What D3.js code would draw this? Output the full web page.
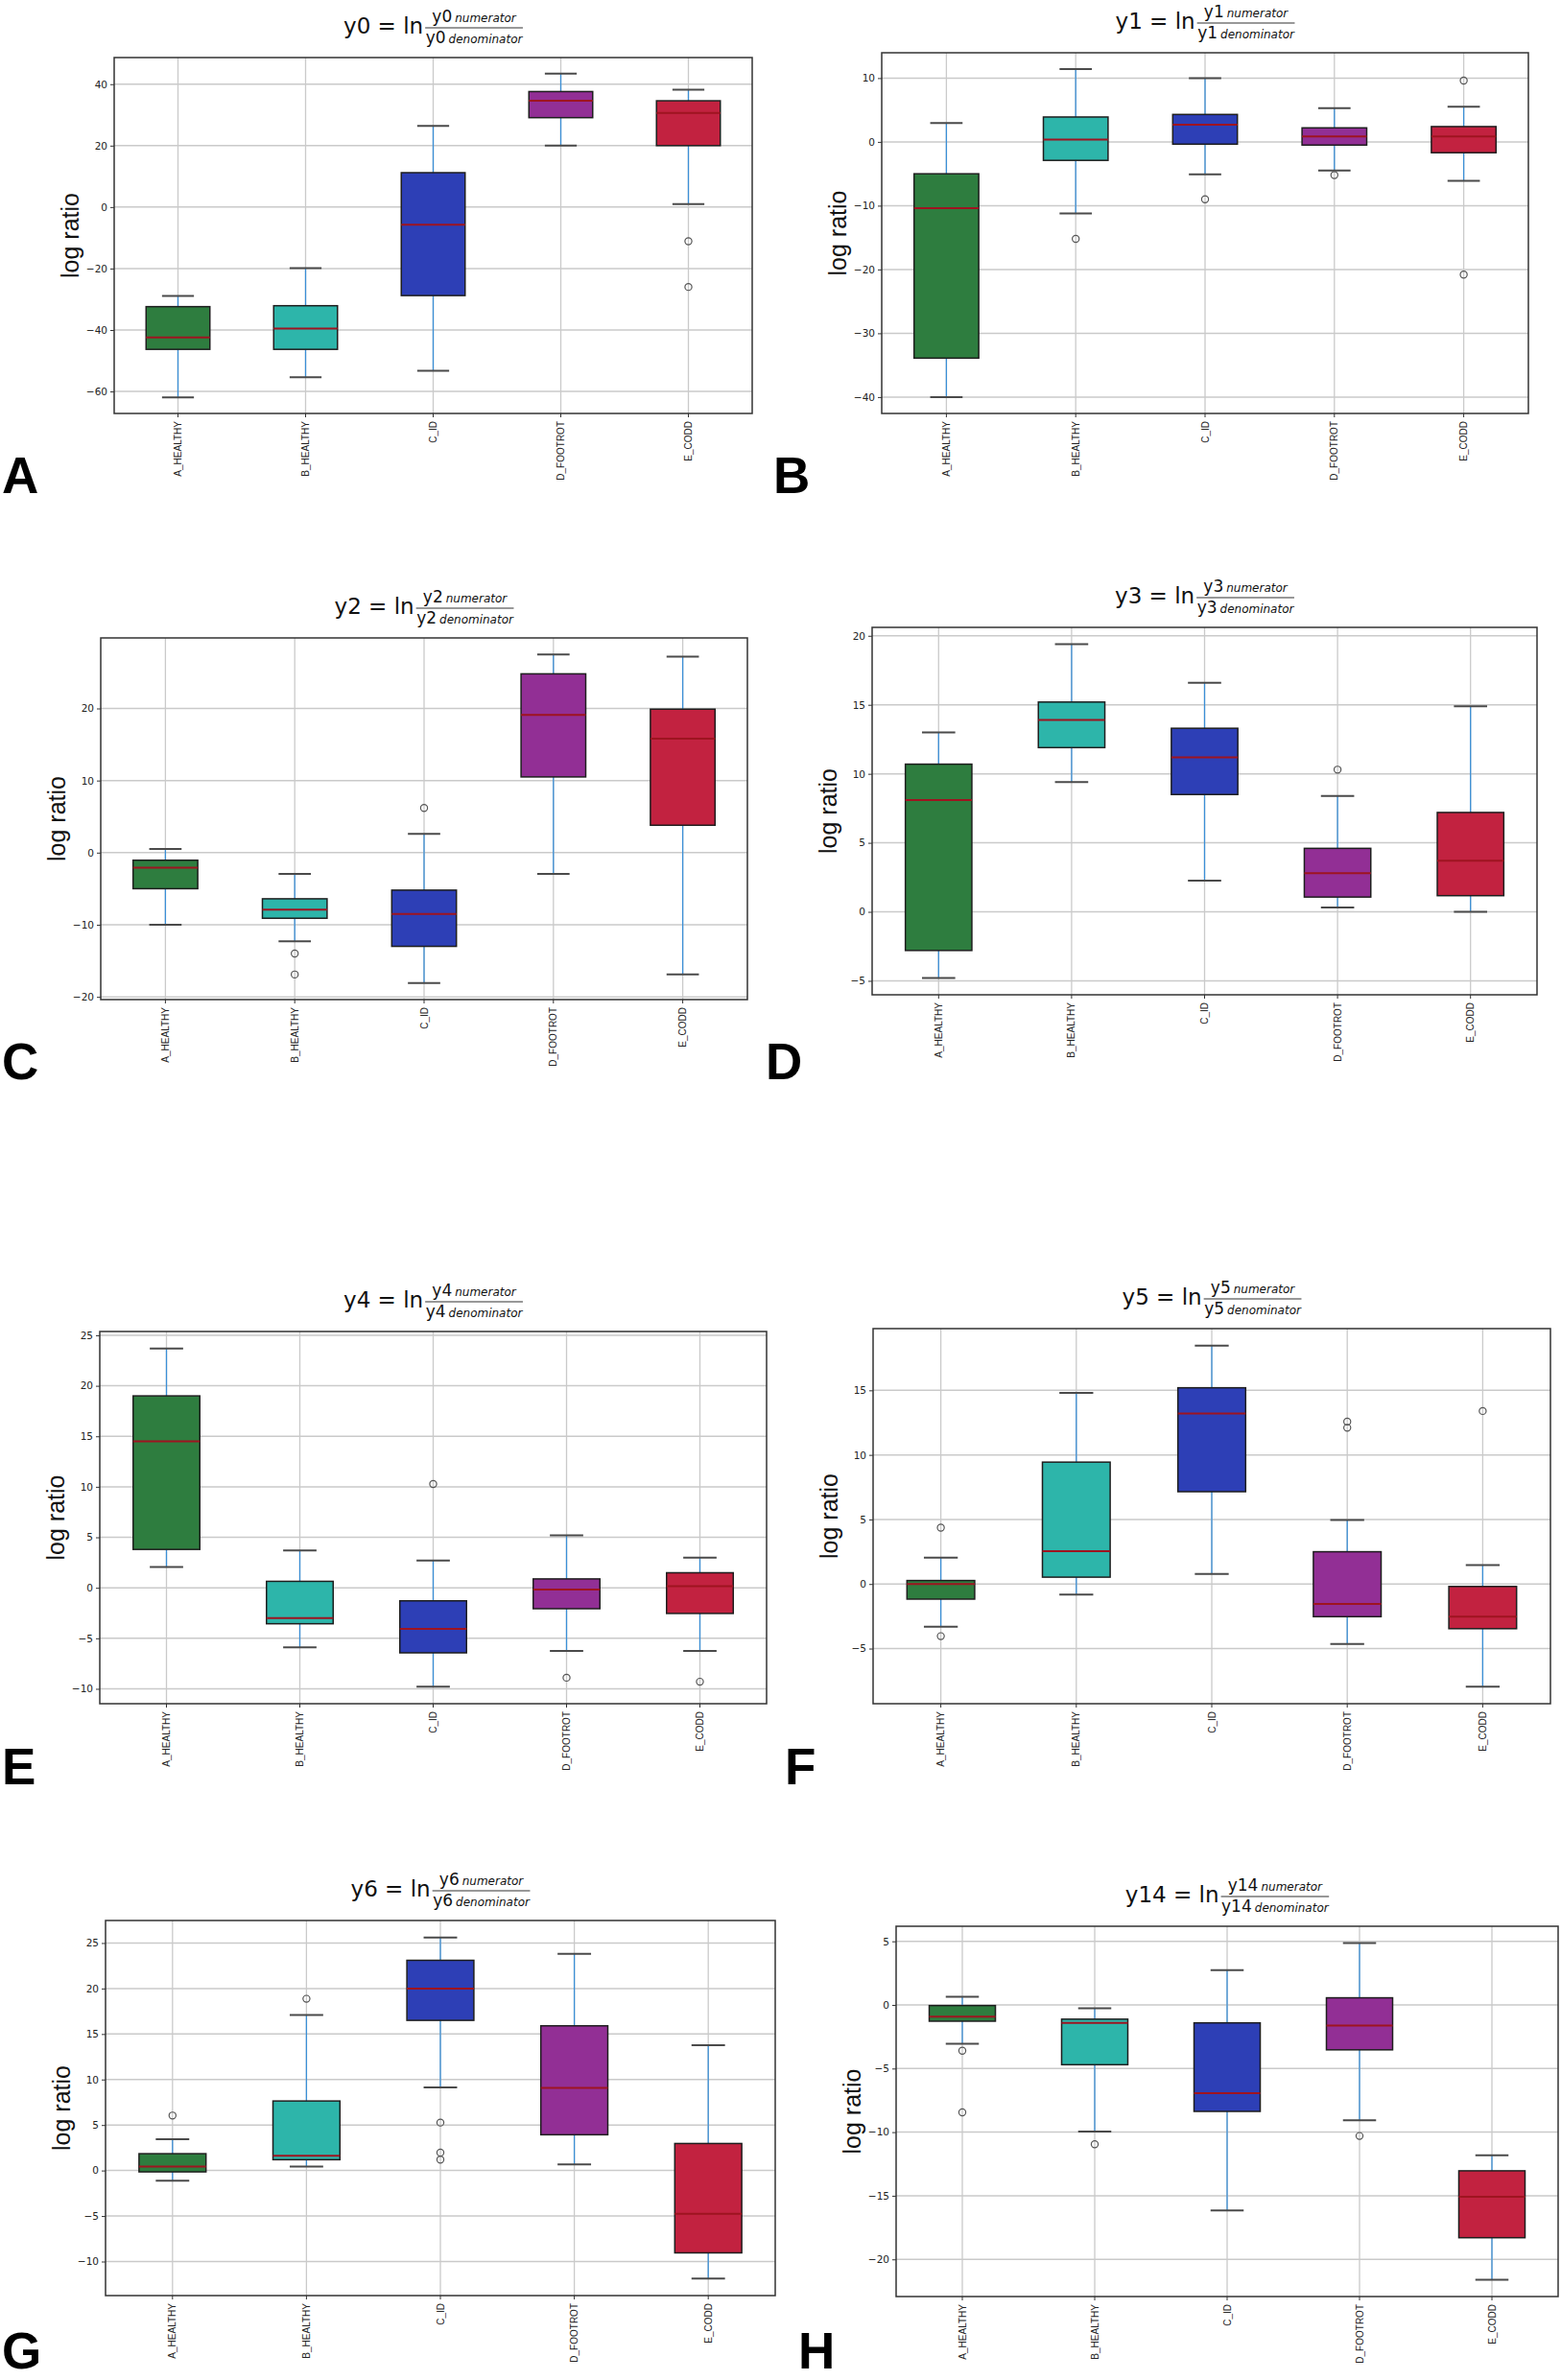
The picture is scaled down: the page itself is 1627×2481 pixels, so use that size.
<!DOCTYPE html>
<html>
<head>
<meta charset="utf-8">
<script src="https://cdn.jsdelivr.net/npm/d3@7"></script>
<style>
  body { margin: 0; background: #fff; }
  svg { display: block; }
</style>
</head>
<body>
<script>
const groups = ["A_HEALTHY", "B_HEALTHY", "C_ID", "D_FOOTROT", "E_CODD"];

// each box: [lower whisker, Q1, median, Q3, upper whisker]
const y0Boxes = [
  [-61.9, -46.3, -42.4, -32.4, -28.9],
  [-55.4, -46.3, -39.5, -32.1, -19.9],
  [-53.3, -28.8, -5.7, 11.2, 26.4],
  [20.0, 29.1, 34.6, 37.6, 43.4],
  [1.0, 20.0, 30.6, 34.6, 38.2]
];
const y0Outliers = [[], [], [], [], [-11.1, -26.0]];
const y0Ticks = [-60, -40, -20, 0, 20, 40];

const y1Boxes = [
  [-40.0, -33.9, -10.4, -5.0, 2.95],
  [-11.2, -2.9, 0.36, 3.9, 11.4],
  [-5.1, -0.36, 2.7, 4.3, 10.0],
  [-4.5, -0.5, 0.86, 2.2, 5.3],
  [-6.1, -1.7, 0.86, 2.4, 5.5]
];
const y1Outliers = [[], [-15.2], [-9.0], [-5.2], [9.6, -20.8]];
const y1Ticks = [-40, -30, -20, -10, 0, 10];

const y2Boxes = [
  [-10.0, -5.0, -2.1, -1.05, 0.52],
  [-12.3, -9.1, -7.9, -6.4, -2.95],
  [-18.1, -13.0, -8.5, -5.2, 2.6],
  [-2.95, 10.5, 19.1, 24.8, 27.5],
  [-16.9, 3.8, 15.8, 19.9, 27.2]
];
const y2Outliers = [[], [-14.0, -16.9], [6.2], [], []];
const y2Ticks = [-20, -10, 0, 10, 20];

const y3Boxes = [
  [-4.8, -2.8, 8.1, 10.7, 13.0],
  [9.4, 11.9, 13.9, 15.2, 19.4],
  [2.26, 8.5, 11.2, 13.3, 16.6],
  [0.32, 1.07, 2.8, 4.6, 8.4],
  [0.0, 1.17, 3.7, 7.2, 14.9]
];
const y3Outliers = [[], [], [], [10.3], []];
const y3Ticks = [-5, 0, 5, 10, 15, 20];

const y4Boxes = [
  [2.07, 3.8, 14.5, 19.0, 23.7],
  [-5.9, -3.56, -3.0, 0.64, 3.7],
  [-9.8, -6.44, -4.07, -1.29, 2.7],
  [-6.24, -2.07, -0.17, 0.88, 5.19],
  [-6.24, -2.54, 0.17, 1.49, 2.98]
];
const y4Outliers = [[], [], [10.27], [-8.9], [-9.3]];
const y4Ticks = [-10, -5, 0, 5, 10, 15, 20, 25];

const y5Boxes = [
  [-3.3, -1.17, 0.0, 0.27, 2.05],
  [-0.82, 0.53, 2.55, 9.44, 14.8],
  [0.77, 7.15, 13.2, 15.2, 18.46],
  [-4.65, -2.53, -1.54, 2.5, 4.95],
  [-7.95, -3.46, -2.53, -0.19, 1.46]
];
const y5Outliers = [[4.36, -4.04], [], [], [12.58, 12.1], [13.4]];
const y5Ticks = [-5, 0, 5, 10, 15];

const y6Boxes = [
  [-1.11, -0.15, 0.44, 1.85, 3.45],
  [0.44, 1.19, 1.63, 7.64, 17.1],
  [9.12, 16.5, 20.0, 23.1, 25.6],
  [0.67, 3.93, 9.08, 15.9, 23.8],
  [-11.87, -9.05, -4.75, 2.97, 13.76]
];
const y6Outliers = [[6.04], [18.87], [5.27, 1.97, 1.19], [], []];
const y6Ticks = [-10, -5, 0, 5, 10, 15, 20, 25];

const y14Boxes = [
  [-3.06, -1.28, -0.93, -0.05, 0.64],
  [-9.96, -4.7, -1.41, -1.12, -0.27],
  [-16.15, -8.37, -6.93, -1.41, 2.74],
  [-9.06, -3.53, -1.62, 0.56, 4.86],
  [-21.6, -18.3, -15.09, -13.04, -11.82]
];
const y14Outliers = [[-3.6, -8.45], [-10.95], [], [-10.3], []];
const y14Ticks = [-20, -15, -10, -5, 0, 5];

const panels = [
  { name: "y0", boxes: y0Boxes, outliers: y0Outliers, ticks: y0Ticks },
  { name: "y1", boxes: y1Boxes, outliers: y1Outliers, ticks: y1Ticks },
  { name: "y2", boxes: y2Boxes, outliers: y2Outliers, ticks: y2Ticks },
  { name: "y3", boxes: y3Boxes, outliers: y3Outliers, ticks: y3Ticks },
  { name: "y4", boxes: y4Boxes, outliers: y4Outliers, ticks: y4Ticks },
  { name: "y5", boxes: y5Boxes, outliers: y5Outliers, ticks: y5Ticks },
  { name: "y6", boxes: y6Boxes, outliers: y6Outliers, ticks: y6Ticks },
  { name: "y14", boxes: y14Boxes, outliers: y14Outliers, ticks: y14Ticks }
];

// where each subplot sits on the page
const layout = [
  { letter: "A", left: 119, top: 60, right: 784, bottom: 431, lx: 2, ly: 514 },
  { letter: "B", left: 919, top: 55, right: 1593, bottom: 431, lx: 806, ly: 514 },
  { letter: "C", left: 105, top: 665, right: 779, bottom: 1042, lx: 2, ly: 1125 },
  { letter: "D", left: 909, top: 654, right: 1602, bottom: 1037, lx: 798, ly: 1125 },
  { letter: "E", left: 104, top: 1388, right: 799, bottom: 1776, lx: 2, ly: 1860 },
  { letter: "F", left: 910, top: 1385, right: 1616, bottom: 1776, lx: 818, ly: 1860 },
  { letter: "G", left: 110, top: 2002, right: 808, bottom: 2393, lx: 2, ly: 2469 },
  { letter: "H", left: 934, top: 2008, right: 1624, bottom: 2394, lx: 832, ly: 2469 }
];

const boxFill = ["#2e7d3f", "#2db5aa", "#2d3fb6", "#922f95", "#c22240"];

const svg = d3.select("body").append("svg")
  .attr("width", 1627)
  .attr("height", 2481);

function drawTitle(g, name, cx, top) {
  const t = g.append("g").attr("class", "title")
    .style("font-family", "'DejaVu Sans', sans-serif")
    .attr("fill", "#111");

  const main = t.append("text")
    .attr("y", top - 25)
    .style("font-size", "23px")
    .text(`${name} = ln`);

  const num = t.append("text").attr("y", top - 37).attr("text-anchor", "middle");
  num.append("tspan").style("font-size", "17px").text(name);
  num.append("tspan").attr("dx", 3).style("font-size", "12px").style("font-style", "italic").text("numerator");

  const den = t.append("text").attr("y", top - 15).attr("text-anchor", "middle");
  den.append("tspan").style("font-size", "17px").text(name);
  den.append("tspan").attr("dx", 3).style("font-size", "12px").style("font-style", "italic").text("denominator");

  const wMain = main.node().getComputedTextLength();
  const wFrac = Math.max(num.node().getComputedTextLength(), den.node().getComputedTextLength()) + 4;
  const x0 = cx - (wMain + 2 + wFrac) / 2;
  const fx = x0 + wMain + 2;

  main.attr("x", x0);
  num.attr("x", fx + wFrac / 2);
  den.attr("x", fx + wFrac / 2);
  t.append("line")
    .attr("x1", fx).attr("x2", fx + wFrac)
    .attr("y1", top - 31).attr("y2", top - 31)
    .attr("stroke", "#333").attr("stroke-width", 1.2);
}

panels.forEach((panel, i) => {
  const p = layout[i];
  const g = svg.append("g");

  const allValues = panel.boxes.flat().concat(panel.outliers.flat());
  const [lo, hi] = d3.extent(allValues);
  const pad = (hi - lo) * 0.05;

  const y = d3.scaleLinear().domain([lo - pad, hi + pad]).range([p.bottom, p.top]);
  const x = d3.scaleBand().domain(groups).range([p.left, p.right]);
  const cx = d => x(d) + x.bandwidth() / 2;
  const boxW = x.bandwidth() * 0.5;
  const capW = x.bandwidth() * 0.25;

  // Grid
  g.append("g").selectAll("line.h")
    .data(panel.ticks)
    .enter().append("line")
    .attr("x1", p.left).attr("x2", p.right)
    .attr("y1", d => y(d)).attr("y2", d => y(d))
    .attr("stroke", "#cacaca").attr("stroke-width", 1.5);

  g.append("g").selectAll("line.v")
    .data(groups)
    .enter().append("line")
    .attr("x1", cx).attr("x2", cx)
    .attr("y1", p.top).attr("y2", p.bottom)
    .attr("stroke", "#cacaca").attr("stroke-width", 1.3);

  // Boxes
  const box = g.append("g").selectAll("g.box")
    .data(panel.boxes)
    .enter().append("g")
    .attr("class", "box");

  box.append("line")
    .attr("x1", (d, j) => cx(groups[j])).attr("x2", (d, j) => cx(groups[j]))
    .attr("y1", d => y(d[0])).attr("y2", d => y(d[1]))
    .attr("stroke", "#3b8fd6").attr("stroke-width", 1.3);

  box.append("line")
    .attr("x1", (d, j) => cx(groups[j])).attr("x2", (d, j) => cx(groups[j]))
    .attr("y1", d => y(d[3])).attr("y2", d => y(d[4]))
    .attr("stroke", "#3b8fd6").attr("stroke-width", 1.3);

  box.append("rect")
    .attr("x", (d, j) => cx(groups[j]) - boxW / 2)
    .attr("width", boxW)
    .attr("y", d => y(d[3]))
    .attr("height", d => y(d[1]) - y(d[3]))
    .attr("fill", (d, j) => boxFill[j])
    .attr("stroke", "#1e1e1e").attr("stroke-width", 1.5);

  box.append("line")
    .attr("x1", (d, j) => cx(groups[j]) - boxW / 2).attr("x2", (d, j) => cx(groups[j]) + boxW / 2)
    .attr("y1", d => y(d[2])).attr("y2", d => y(d[2]))
    .attr("stroke", "#9e1420").attr("stroke-width", 2);

  [0, 4].forEach(k => {
    box.append("line")
      .attr("x1", (d, j) => cx(groups[j]) - capW / 2).attr("x2", (d, j) => cx(groups[j]) + capW / 2)
      .attr("y1", d => y(d[k])).attr("y2", d => y(d[k]))
      .attr("stroke", "#4a4a4a").attr("stroke-width", 2);
  });

  // Outliers
  const fliers = panel.outliers.flatMap((vals, j) => vals.map(v => ({ group: groups[j], value: v })));
  g.append("g").selectAll("circle")
    .data(fliers)
    .enter().append("circle")
    .attr("cx", d => cx(d.group))
    .attr("cy", d => y(d.value))
    .attr("r", 3.6)
    .attr("fill", "none")
    .attr("stroke", "#555").attr("stroke-width", 1.2);

  // Axes
  const yAxis = g.append("g")
    .attr("transform", `translate(${p.left},0)`)
    .call(d3.axisLeft(y).tickValues(panel.ticks).tickSize(4).tickPadding(3));
  yAxis.select(".domain").remove();
  yAxis.selectAll("text")
    .style("font-family", "'DejaVu Sans', sans-serif")
    .style("font-size", "10.5px")
    .attr("fill", "#222");
  yAxis.selectAll("line").attr("stroke", "#333");

  const xAxis = g.append("g")
    .attr("transform", `translate(0,${p.bottom})`)
    .call(d3.axisBottom(x).tickSize(4).tickSizeOuter(0));
  xAxis.select(".domain").remove();
  xAxis.selectAll("line").attr("stroke", "#333");
  xAxis.selectAll("text")
    .attr("transform", "rotate(-90)")
    .attr("x", -8)
    .attr("y", 0)
    .attr("dy", "0.35em")
    .attr("text-anchor", "end")
    .style("font-family", "'Liberation Sans', Arial, sans-serif")
    .style("font-size", "10px")
    .attr("fill", "#222");

  // Frame
  g.append("rect")
    .attr("x", p.left).attr("y", p.top)
    .attr("width", p.right - p.left).attr("height", p.bottom - p.top)
    .attr("fill", "none")
    .attr("stroke", "#333").attr("stroke-width", 1.5);

  // Y label
  g.append("text")
    .attr("transform", `translate(${p.left - 46},${(p.top + p.bottom) / 2}) rotate(-90)`)
    .attr("text-anchor", "middle")
    .attr("dy", "0.35em")
    .style("font-family", "'Liberation Sans', Arial, sans-serif")
    .style("font-size", "25px")
    .attr("fill", "#111")
    .text("log ratio");

  drawTitle(g, panel.name, (p.left + p.right) / 2, p.top);

  // Panel letter
  svg.append("text")
    .attr("x", p.lx).attr("y", p.ly)
    .style("font-family", "'Liberation Sans', Arial, sans-serif")
    .style("font-weight", "bold")
    .style("font-size", "53px")
    .attr("fill", "#000")
    .text(p.letter);
});
</script>
</body>
</html>
